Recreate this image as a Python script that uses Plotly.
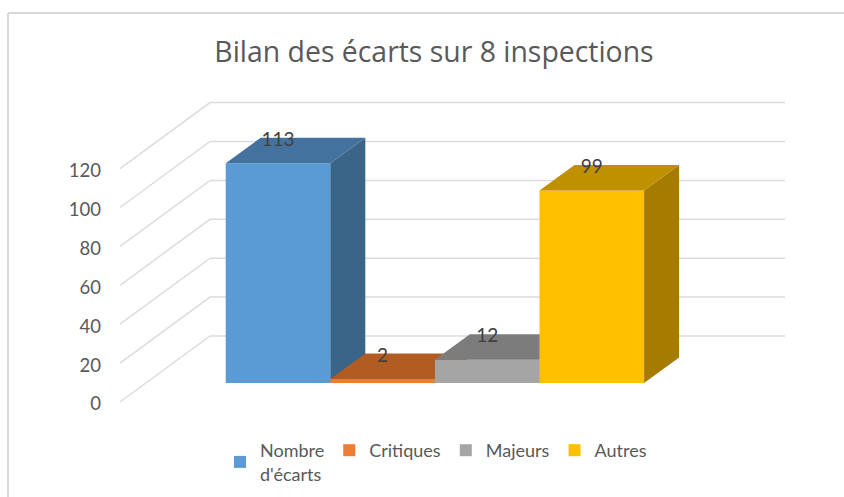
import plotly.graph_objects as go

categories = ["Nombre<br>d'écarts", "Critiques", "Majeurs", "Autres"]
values = [113, 2, 12, 99]
front_colors = ["#5B9BD5", "#ED7D31", "#A5A5A5", "#FFC000"]
top_colors = ["#44729F", "#B25C22", "#7C7C7C", "#BF9000"]
side_colors = ["#3A6488", "#9A4F1E", "#6B6B6B", "#A67C00"]
y_ticks = [0, 20, 40, 60, 80, 100, 120]
title_text = "Bilan des écarts sur 8 inspections"

W, H = 844, 497
CAT_PX = 104.6      # width of a category in pixels
C0_PX = 278.0       # centre of the first bar
UNIT_PX = 1.945     # pixels per value unit
BAR_BASE = 383.0    # pixel row of the bars' base
WALL_BASE = 402.0   # pixel row of the front edge of the zero gridline
BAR_DX, BAR_DY = 35 / CAT_PX, 25.5 / UNIT_PX
WALL_DX, WALL_DY = 90 / CAT_PX, 66 / UNIT_PX
WALL_LEFT = (120 - C0_PX) / CAT_PX
WALL_RIGHT = (785 - C0_PX) / CAT_PX
LABEL_RISE = 22 / UNIT_PX

x_range = [(0 - C0_PX) / CAT_PX, (W - C0_PX) / CAT_PX]
bar_range = [(BAR_BASE - H) / UNIT_PX, BAR_BASE / UNIT_PX]
wall_range = [(WALL_BASE - H) / UNIT_PX, WALL_BASE / UNIT_PX]

fig = go.Figure()

# Wall gridlines, on the axis that owns the value tick labels
for t in y_ticks:
    fig.add_trace(go.Scatter(
        x=[WALL_LEFT, WALL_LEFT + WALL_DX, WALL_RIGHT],
        y=[t, t + WALL_DY, t + WALL_DY],
        mode="lines", line=dict(color="#DCDCDC", width=1.5),
        showlegend=False, hoverinfo="skip", xaxis="x", yaxis="y"))

# One overlaid subplot per bar, so later bars hide earlier ones
for i, (cat, v) in enumerate(zip(categories, values)):
    n = i + 2
    xa, ya = f"x{n}", f"y{n}"
    l, r = i - 0.5, i + 0.5
    fig.add_trace(go.Bar(
        x=[i], y=[v], width=1, name=cat,
        marker=dict(color=front_colors[i], line=dict(width=0)),
        xaxis=xa, yaxis=ya, hoverinfo="skip"))
    fig.add_trace(go.Scatter(
        x=[r, r + BAR_DX, r + BAR_DX, r, r],
        y=[0, BAR_DY, v + BAR_DY, v, 0],
        mode="lines", fill="toself", fillcolor=side_colors[i],
        line=dict(width=0), showlegend=False, hoverinfo="skip",
        xaxis=xa, yaxis=ya))
    fig.add_trace(go.Scatter(
        x=[l, r, r + BAR_DX, l + BAR_DX, l],
        y=[v, v, v + BAR_DY, v + BAR_DY, v],
        mode="lines", fill="toself", fillcolor=top_colors[i],
        line=dict(width=0), showlegend=False, hoverinfo="skip",
        xaxis=xa, yaxis=ya))

# Data labels sit on the top overlay
last = len(values) + 1
fig.add_trace(go.Scatter(
    x=list(range(len(values))),
    y=[v + LABEL_RISE for v in values],
    text=[str(v) for v in values],
    mode="text", textposition="middle center",
    textfont=dict(family="Lato", size=19, color="#404040"),
    showlegend=False, hoverinfo="skip",
    xaxis=f"x{last}", yaxis=f"y{last}"))

layout = dict(
    width=W, height=H, autosize=False,
    margin=dict(l=0, r=0, t=0, b=0),
    paper_bgcolor="white", plot_bgcolor="rgba(0,0,0,0)",
    barmode="overlay",
    font=dict(family="Lato", color="#595959"),
    title=dict(text=title_text, x=434 / W, xanchor="center",
               y=1 - 52 / H, yanchor="middle",
               font=dict(family="Open Sans", size=28.4, color="#595959")),
    legend=dict(orientation="h", x=220 / W, xanchor="left",
                y=1 - 432 / H, yanchor="top",
                font=dict(family="Lato", size=18, color="#595959"),
                bgcolor="rgba(0,0,0,0)", itemclick=False,
                itemdoubleclick=False, traceorder="normal"),
    xaxis=dict(range=x_range, visible=False, domain=[0, 1]),
    yaxis=dict(range=wall_range, domain=[0, 1], anchor="free",
               position=101 / W, side="left",
               tickmode="array", tickvals=y_ticks,
               ticks="", showgrid=False, zeroline=False, showline=False,
               ticklabelshift=2,
               tickfont=dict(family="Lato", size=18.5, color="#595959")),
    shapes=[
        dict(type="line", xref="paper", yref="paper",
             x0=8 / W, x1=8 / W, y0=0, y1=1 - 13 / H,
             line=dict(color="#D9D9D9", width=2)),
        dict(type="line", xref="paper", yref="paper",
             x0=8 / W, x1=1, y0=1 - 13 / H, y1=1 - 13 / H,
             line=dict(color="#D9D9D9", width=2)),
    ],
)
for n in range(2, last + 1):
    layout[f"xaxis{n}"] = dict(range=x_range, visible=False, overlaying="x",
                               domain=[0, 1], anchor=f"y{n}")
    layout[f"yaxis{n}"] = dict(range=bar_range, visible=False, overlaying="y",
                               domain=[0, 1], anchor=f"x{n}")

fig.update_layout(**layout)
fig.write_html("out.html", config=dict(displayModeBar=False),
               post_script="document.body.style.margin='0';")
